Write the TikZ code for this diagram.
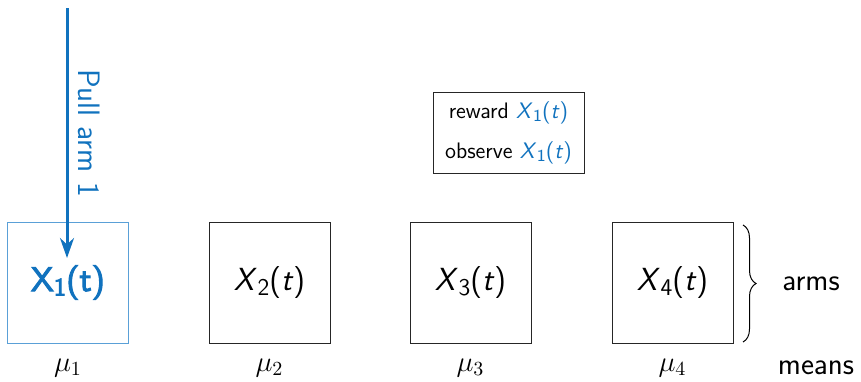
\documentclass[tikz,border=0pt]{standalone}
\usepackage{fontspec}
\newfontfamily\armbold[FakeBold=3]{lmsans10-regular.otf}
\usetikzlibrary{arrows.meta,decorations.pathreplacing}
\definecolor{armblue}{RGB}{16,114,190}
\definecolor{lightblue}{RGB}{90,160,215}
\newcommand\Xvar[2]{\textit{X}\kern0.02em\raisebox{-0.35ex}{\fontsize{#2}{#2}\selectfont #1}(\textit{t})}
\begin{document}
\begin{tikzpicture}[x=0.5pt,y=-0.5pt,
  arm/.style={draw=black!85,line width=0.45pt,minimum width=60.5pt,minimum height=60.5pt,inner sep=0pt,font=\sffamily\fontsize{16}{18}\selectfont},
  meanlbl/.style={font=\fontsize{14.5}{16}\selectfont},
  sidelbl/.style={font=\sffamily\fontsize{15.5}{17}\selectfont}]
\useasboundingbox (0,0) rectangle (861,381);
\node[arm,draw=lightblue,text=armblue] (a1) at (68,282.5) {\armbold\fontsize{17}{18}\selectfont X\raisebox{-0.3ex}{\fontsize{12.5}{12}\selectfont 1}(t)};
\node[arm] (a2) at (269.5,282.5) {\Xvar{2}{12}};
\node[arm] (a3) at (470.5,282.5) {\Xvar{3}{12}};
\node[arm] (a4) at (672.5,282.5) {\Xvar{4}{12}};
\node[meanlbl] (m1) at (68,368) {$\mu_1$};
\node[meanlbl] (m2) at (269.5,368) {$\mu_2$};
\node[meanlbl] (m3) at (470.5,368) {$\mu_3$};
\node[meanlbl] (m4) at (672.5,368) {$\mu_4$};
\node[sidelbl] (means) at (816,368) {means};
\node[sidelbl] (arms) at (811,284) {arms};
\coordinate (bt) at (743,225);
\coordinate (bb) at (743,342);
\draw[line width=0.5pt,decorate,decoration={brace,amplitude=6.5pt}] (bt) -- (bb);
\node[draw=black!85,line width=0.45pt,minimum width=75.5pt,minimum height=40.5pt,inner sep=0pt,align=center,font=\sffamily\fontsize{11.2}{20}\selectfont] (rw) at (508.5,132.5)
  {reward {\color{armblue}\Xvar{1}{8.4}}\\ observe {\color{armblue}\Xvar{1}{8.4}}};
\coordinate (top) at (67,8);
\draw[armblue,line width=1.5pt,-{Stealth[length=10pt,width=7pt]}] (top) -- (67,258) node[pos=0.5,anchor=south,rotate=-90,yshift=1.5pt,font=\sffamily\fontsize{15.5}{17}\selectfont] (pull) {Pull arm 1};
\end{tikzpicture}
\end{document}
